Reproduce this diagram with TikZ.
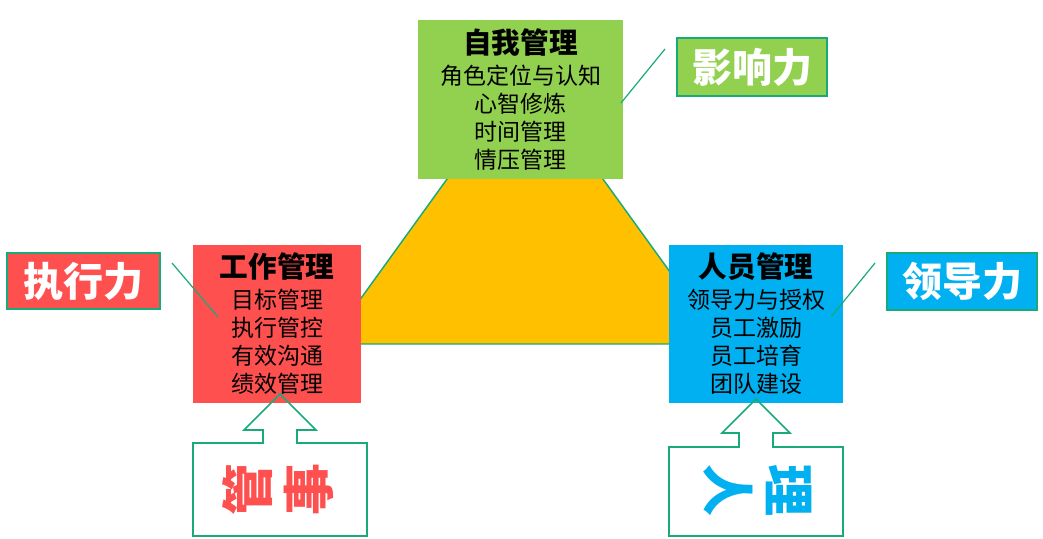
\documentclass[tikz,border=0pt]{standalone}
\usepackage{fontspec}
\setmainfont{Noto Sans CJK SC}
\usetikzlibrary{positioning}
\definecolor{selfgreen}{RGB}{146,208,80}
\definecolor{workred}{RGB}{255,80,80}
\definecolor{peopleblue}{RGB}{0,176,240}
\definecolor{coreorange}{RGB}{255,192,0}
\definecolor{edgegreen}{RGB}{24,170,120}
\tikzset{
	areabox/.style={fill=#1, inner sep=0pt, align=center, text=black,
		font=\fontsize{17.25}{21}\selectfont},
	skillbox/.style={fill=#1, draw=edgegreen, line width=1.1pt, inner sep=0pt,
		text=white, font=\fontsize{30}{32}\selectfont\bfseries},
	sideword/.style={inner sep=0pt, align=center, text=#1,
		font=\fontsize{39}{45.75}\selectfont\bfseries},
	calloutline/.style={draw=edgegreen, line width=0.9pt},
	arrowcallout/.style={draw=edgegreen, line width=1.2pt, line join=miter}
}
\newcommand{\areatitle}[1]{{\fontsize{21.5}{21}\selectfont\bfseries #1}\\[2.25pt]}
\begin{document}
\begin{tikzpicture}[x=0.75pt, y=-0.75pt]
	\useasboundingbox (0, 0) rectangle (1043, 539);
	\draw[edgegreen, line width=1.1pt, fill=coreorange] (525, 71)--(328, 344)--(722, 344)--cycle;
	\node[areabox=selfgreen, minimum width=153.75pt, minimum height=119.25pt] (self) at (520.5, 99.5)
		{\areatitle{自我管理}角色定位与认知\\心智修炼\\时间管理\\情压管理};
	\node[areabox=workred, minimum width=126pt, minimum height=118.5pt] (work) at (277, 324)
		{\areatitle{工作管理}目标管理\\执行管控\\有效沟通\\绩效管理};
	\node[areabox=peopleblue, minimum width=130.5pt, minimum height=118.5pt] (people) at (756, 324)
		{\areatitle{人员管理}领导力与授权\\员工激励\\员工培育\\团队建设};
	\node[skillbox=selfgreen, minimum width=112.5pt, minimum height=43.5pt] (influence) at (752, 67) {影响力};
	\node[skillbox=workred, minimum width=114.75pt, minimum height=42pt] (execution) at (83.5, 281) {执行力};
	\node[skillbox=peopleblue, minimum width=112.5pt, minimum height=42.75pt] (leadership) at (962, 281.5) {领导力};
	\coordinate (influenceTail) at (665, 49);
	\coordinate (influenceTip) at (621, 103);
	\coordinate (executionTail) at (172, 263);
	\coordinate (executionTip) at (218, 317);
	\coordinate (leadershipTail) at (875, 263);
	\coordinate (leadershipTip) at (831, 317);
	\draw[calloutline] (influenceTail)--(influenceTip);
	\draw[calloutline] (executionTail)--(executionTip);
	\draw[calloutline] (leadershipTail)--(leadershipTip);
	\draw[arrowcallout] (193, 443)--(263, 443)--(263, 430)--(244, 430)--(280, 394)--(316, 430)
		--(297, 430)--(297, 443)--(367, 443)--(367, 536)--(193, 536)--cycle;
	\draw[arrowcallout] (669, 447)--(739, 447)--(739, 433)--(722, 433)--(756, 399)--(790, 433)
		--(773, 433)--(773, 447)--(843, 447)--(843, 536)--(669, 536)--cycle;
	\node[sideword=workred, rotate=90] (manageTasks) at (278.5, 489) {管\\事};
	\node[sideword=peopleblue, rotate=-90] (managePeople) at (757.5, 490) {理\\人};
\end{tikzpicture}
\end{document}
